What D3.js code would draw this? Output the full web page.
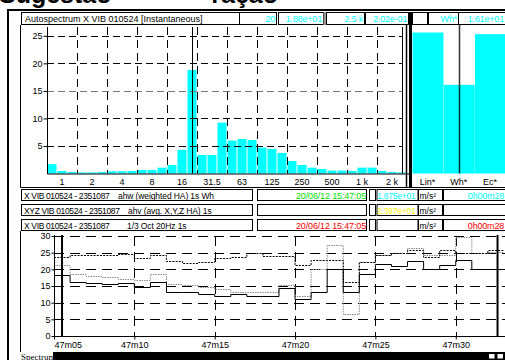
<!DOCTYPE html>
<html><head><meta charset="utf-8">
<script src="https://cdn.jsdelivr.net/npm/d3@7"></script>
<style>
html,body{margin:0;padding:0;background:#fff;overflow:hidden}
svg{display:block;font-family:"Liberation Sans",Arial,Helvetica,sans-serif}
</style></head><body>
<svg id="c" width="505" height="360"></svg>
<script>
// ---- autospectrum (1/3 octave bands, m/s²) ----
const bandLabels = ["0.8","1","1.25","1.6","2","2.5","3.15","4","5","6.3","8","10","12.5","16","20","25","31.5","40","50","63","80","100","125","160","200","250","315","400","500","630","800","1 k","1.25 k","1.6 k","2 k","2.5 k"];
const spectrumValues = [1.7,0.45,0.27,0.2,0.2,0.27,0.4,0.4,0.45,0.64,0.64,1.05,1.55,4.3,18.8,3.36,3.36,9.24,5.97,6.27,6.09,4.7,4.45,3.73,2.27,1.55,1.06,0.82,0.52,0.52,0.45,1.06,1.06,0.45,0.27,0.202];
const octaveLabels = ["1","2","4","8","16","31.5","63","125","250","500","1 k","2 k"];
const spectrumTicks = [5,10,15,20,25];
const cursorBands = ["20","2.5 k"];

// ---- overall levels ----
const levelLabels = ["Lin*","Wh*","Ec*"];
const levelValues = [25.6,16.1,25.3];

// ---- header readouts ----
const headerTitle = "Autospectrum X VIB 010524 [Instantaneous]";
const headerReadouts = ["20","1.88e+01","2.5 k","2.02e-01","","Wh*","1.61e+01"];

// ---- channel rows ----
const rowNames = ["X VIB 010524 - 2351087","XYZ VIB 010524 - 2351087","X VIB 010524 - 2351087"];
const rowDescs = ["ahw (weighted HA) 1s  Wh","ahv (avg. X,Y,Z HA) 1s","1/3 Oct 20Hz 1s"];
const rowDates = ["20/06/12 15:47:05","","20/06/12 15:47:05"];
const rowValues = ["1,675e+01","2,397e+01",""];
const rowDurations = ["0h00m28","","0h00m28"];
const rowColors = ["#00ffff","#f2f200","#ff0000"];
const dateColors = ["#00e000","#00e000","#ff0000"];

// ---- time history (1 s steps from 47m05) ----
const timeLabels = ["47m05","47m10","47m15","47m20","47m25","47m30"];
const timeTicks = [0,5,10,15,20,25,30];
const ahwValues = [18.3,16.3,15.8,15.5,15.8,14.6,16.1,13.1,13.3,12.5,12.1,12.5,12.0,12.1,14.3,11.1,13.3,20.0,13.3,18.5,21.5,21.1,22.5,20.0,21.3,22.8,20.0,20.0];
const ahvValues = [23.8,24.3,24.3,24.3,24.6,23.5,24.3,22.5,22.0,22.3,23.5,23.8,24.9,24.0,24.0,21.3,22.8,22.8,16.3,22.1,24.3,24.8,25.8,23.8,25.8,24.8,24.8,25.8];
const octValues = [21.3,18.5,18.1,17.8,17.1,16.8,18.6,15.5,15.3,14.8,14.0,13.1,13.1,13.1,15.3,12.0,20.0,27.3,6.5,22.1,24.3,24.9,26.3,24.3,24.3,29.8,24.8,25.3];
const timeCursors = [0.5,27.6];

const svg = d3.select("#c");
const FS = 9;

function box(x0,y0,x1,y1,opts={}){
  svg.append("rect").attr("x",x0+0.5).attr("y",y0+0.5).attr("width",x1-x0-1).attr("height",y1-y0-1)
    .attr("fill",opts.fill||"#fff").attr("stroke",opts.stroke||"#000").attr("stroke-width",1);
}
function txt(x,y,s,opts={}){
  return svg.append("text").attr("x",x).attr("y",y).text(s)
    .attr("font-size",opts.size||FS).attr("fill",opts.fill||"#000")
    .attr("text-anchor",opts.anchor||"start")
    .attr("letter-spacing",opts.ls||null)
    .attr("font-family",opts.family||null).attr("font-weight",opts.weight||null);
}

// page heading (mostly above the visible area)
txt(-1,3,"Sugestão",{size:25,weight:"bold"});
txt(278,3,"ração",{size:25,weight:"bold",anchor:"end"});

// outer frame
svg.append("rect").attr("x",7).attr("y",9).attr("width",2).attr("height",351).attr("fill","#000");
svg.append("rect").attr("x",7).attr("y",9).attr("width",498).attr("height",2).attr("fill","#000");

// header row
box(21,12,240,25);
txt(25,21.5,headerTitle);
const hdrCells = [[239,277],[278,324],[326,365],[365,409],[412,428],[428,459],[458,506]];
hdrCells.forEach((c,i)=>{
  box(c[0],12,c[1],25);
  if(headerReadouts[i]) txt(c[1]-2,21.5,headerReadouts[i],{fill:"#00ffff",anchor:"end",ls:"-0.2"});
});
svg.append("rect").attr("x",323.5).attr("y",12).attr("width",2.5).attr("height",13).attr("fill","#999");
svg.append("rect").attr("x",409).attr("y",12).attr("width",3).attr("height",13).attr("fill","#000");

// spectrum panel frame
svg.append("path").attr("d","M20.5,25V187.5H506").attr("fill","none").attr("stroke","#000");

// ---- spectrum chart ----
const xSpec = d3.scaleBand().domain(bandLabels).range([47,407]).paddingInner(0.1).paddingOuter(0.05);
const ySpec = d3.scaleLinear().domain([0,26.6]).range([173.5,27]);
const gSpec = svg.append("g");

gSpec.selectAll("rect.bar").data(spectrumValues).join("rect").attr("class","bar")
  .attr("x",(d,i)=>xSpec(bandLabels[i])).attr("width",xSpec.bandwidth())
  .attr("y",d=>ySpec(d)).attr("height",d=>ySpec(0)-ySpec(d)).attr("fill","#00ffff");

// grid
const octaveEdges = d3.range(3,36,3).map(i=>xSpec(bandLabels[i])-0.5);
gSpec.selectAll("line.vg").data(octaveEdges).join("line").attr("class","vg")
  .attr("x1",d=>Math.round(d)+0.5).attr("x2",d=>Math.round(d)+0.5).attr("y1",27).attr("y2",ySpec(0))
  .attr("stroke","#000").attr("stroke-dasharray","8,5");
gSpec.selectAll("line.hg").data(spectrumTicks).join("line").attr("class","hg")
  .attr("x1",47).attr("x2",403).attr("y1",d=>Math.round(ySpec(d))+0.5).attr("y2",d=>Math.round(ySpec(d))+0.5)
  .attr("stroke",d=>d===15?"#777":"#000").attr("stroke-dasharray","7,4");

// axes
const yAxS = gSpec.append("g").attr("transform","translate(47.5,0)")
  .call(d3.axisLeft(ySpec).tickValues(spectrumTicks).tickSize(4).tickPadding(1));
const xAxS = gSpec.append("g").attr("transform",`translate(0,${ySpec(0)})`)
  .call(d3.axisBottom(xSpec).tickValues(octaveLabels).tickSize(0).tickPadding(6));
[yAxS,xAxS].forEach(a=>{
  a.selectAll("text").attr("font-size",FS).attr("font-family","Liberation Sans, Arial, sans-serif").attr("fill","#000");
  a.select(".domain").remove();
  a.selectAll("line").attr("stroke","#000");
});
xAxS.selectAll("text").attr("dy","0.6em");
gSpec.append("path").attr("d",`M47.5,27V${ySpec(0)+0.5}H411`).attr("fill","none").attr("stroke","#000");

// cursors
gSpec.selectAll("line.cur").data(cursorBands).join("line").attr("class","cur")
  .attr("x1",d=>Math.round(xSpec(d)+xSpec.bandwidth()/2)+0.5).attr("x2",d=>Math.round(xSpec(d)+xSpec.bandwidth()/2)+0.5)
  .attr("y1",27).attr("y2",ySpec(0)).attr("stroke","#000").attr("stroke-width",1);
gSpec.append("line").attr("x1",406.5).attr("x2",406.5).attr("y1",25).attr("y2",187).attr("stroke","#000").attr("stroke-width",1.5);
svg.append("rect").attr("x",409).attr("y",25).attr("width",3).attr("height",162).attr("fill","#000");

// ---- overall level bars ----
const xLev = d3.scaleBand().domain(levelLabels).range([412.5,505]).paddingInner(0.04).paddingOuter(0);
const gLev = svg.append("g");
gLev.selectAll("rect").data(levelValues).join("rect")
  .attr("x",(d,i)=>xLev(levelLabels[i])).attr("width",xLev.bandwidth()+1)
  .attr("y",d=>ySpec(d)).attr("height",d=>ySpec(0)-ySpec(d)).attr("fill","#00ffff");
const xAxL = gLev.append("g").attr("transform",`translate(0,${ySpec(0)})`)
  .call(d3.axisBottom(xLev).tickSize(0).tickPadding(6));
xAxL.select(".domain").remove();
xAxL.selectAll("text").attr("font-size",FS).attr("font-family","Liberation Sans, Arial, sans-serif").attr("dy","0.6em");
const whX = Math.round(xLev("Wh*")+xLev.bandwidth()/2)+0.5;
gLev.append("line").attr("x1",whX).attr("x2",whX).attr("y1",25).attr("y2",ySpec(0))
  .attr("stroke","#000").attr("stroke-opacity",0.8).attr("stroke-width",1.5);

// ---- channel rows ----
const rowTops = [189,204,219];
rowTops.forEach((y0,i)=>{
  const y1=y0+12, base=y0+9.5;
  box(21,y0,253,y1);
  txt(24,base,rowNames[i],{size:8.5,ls:"-0.35"});
  txt(i===0?118:(i===1?128:127),base,rowDescs[i],{size:8.5,ls:"-0.1"});
  box(257,y0,367,y1);
  if(rowDates[i]) txt(366,base,rowDates[i],{fill:dateColors[i],anchor:"end",ls:"-0.15"});
  box(369,y0,376,y1);
  box(376.5,y0,418.5,y1);
  if(rowValues[i]) txt(377,base,rowValues[i],{fill:rowColors[i],size:8.5,ls:"-0.2"});
  box(418,y0,443,y1);
  txt(419.5,base,"m/s²",{size:8.5});
  box(443,y0,506,y1);
  if(rowDurations[i]) txt(504,base,rowDurations[i],{fill:rowColors[i],anchor:"end",ls:"-0.2"});
});

// time panel frame
svg.append("path").attr("d","M20.5,231V352").attr("fill","none").attr("stroke","#000");

// ---- time history chart ----
const xT = d3.scaleLinear().domain([0,28]).range([54,54+28*16.07]);
const yT = d3.scaleLinear().domain([0,30]).range([336,236]);
const gT = svg.append("g");
gT.selectAll("line.hg").data(timeTicks.slice(1)).join("line").attr("class","hg")
  .attr("x1",54).attr("x2",505).attr("y1",d=>Math.round(yT(d))+0.5).attr("y2",d=>Math.round(yT(d))+0.5)
  .attr("stroke","#000").attr("stroke-dasharray","10,6");
gT.selectAll("line.vg").data([5,10,15,20,25]).join("line").attr("class","vg")
  .attr("x1",d=>Math.round(xT(d))+0.5).attr("x2",d=>Math.round(xT(d))+0.5).attr("y1",236).attr("y2",336)
  .attr("stroke","#000").attr("stroke-dasharray","10,6");

const stepLine = d3.line().curve(d3.curveStepAfter).x(d=>xT(d[0])).y(d=>Math.round(yT(d[1]))+0.5);
const pts = vals => vals.map((v,i)=>[i,v]).concat([[vals.length,vals[vals.length-1]]]);
gT.append("path").attr("d",stepLine(pts(octValues))).attr("fill","none").attr("stroke","#8a8a8a").attr("stroke-dasharray","1.5,1");
gT.append("path").attr("d",stepLine(pts(ahvValues))).attr("fill","none").attr("stroke","#000").attr("stroke-dasharray","2,1.2");
gT.append("path").attr("d",stepLine(pts(ahwValues))).attr("fill","none").attr("stroke","#000");

const yAxT = gT.append("g").attr("transform","translate(54.5,0)")
  .call(d3.axisLeft(yT).tickValues(timeTicks).tickSize(3).tickPadding(1));
const xAxT = gT.append("g").attr("transform","translate(0,336.5)")
  .call(d3.axisBottom(xT).tickValues([0,5,10,15,20,25]).tickSize(3).tickPadding(2).tickFormat((d,i)=>timeLabels[i]));
[yAxT,xAxT].forEach(a=>{
  a.selectAll("text").attr("font-size",FS).attr("font-family","Liberation Sans, Arial, sans-serif").attr("fill","#000");
  a.select(".domain").remove();
});
xAxT.selectAll("text").filter((d,i)=>i===0).attr("text-anchor","start");
gT.append("path").attr("d","M54.5,235V336.5H505").attr("fill","none").attr("stroke","#000");
timeCursors.forEach(t=>{
  gT.append("line").attr("x1",xT(t)).attr("x2",xT(t)).attr("y1",235).attr("y2",336.5).attr("stroke","#000").attr("stroke-width",2);
});

// bottom tab strip
svg.append("rect").attr("x",53).attr("y",352).attr("width",452).attr("height",8).attr("fill","#000");
box(488,353,495.5,359.5);
box(496.5,353,504,359.5);
txt(21,360,"Spectrum",{size:9,family:"Liberation Serif, Times New Roman, serif"});
</script></body></html>
